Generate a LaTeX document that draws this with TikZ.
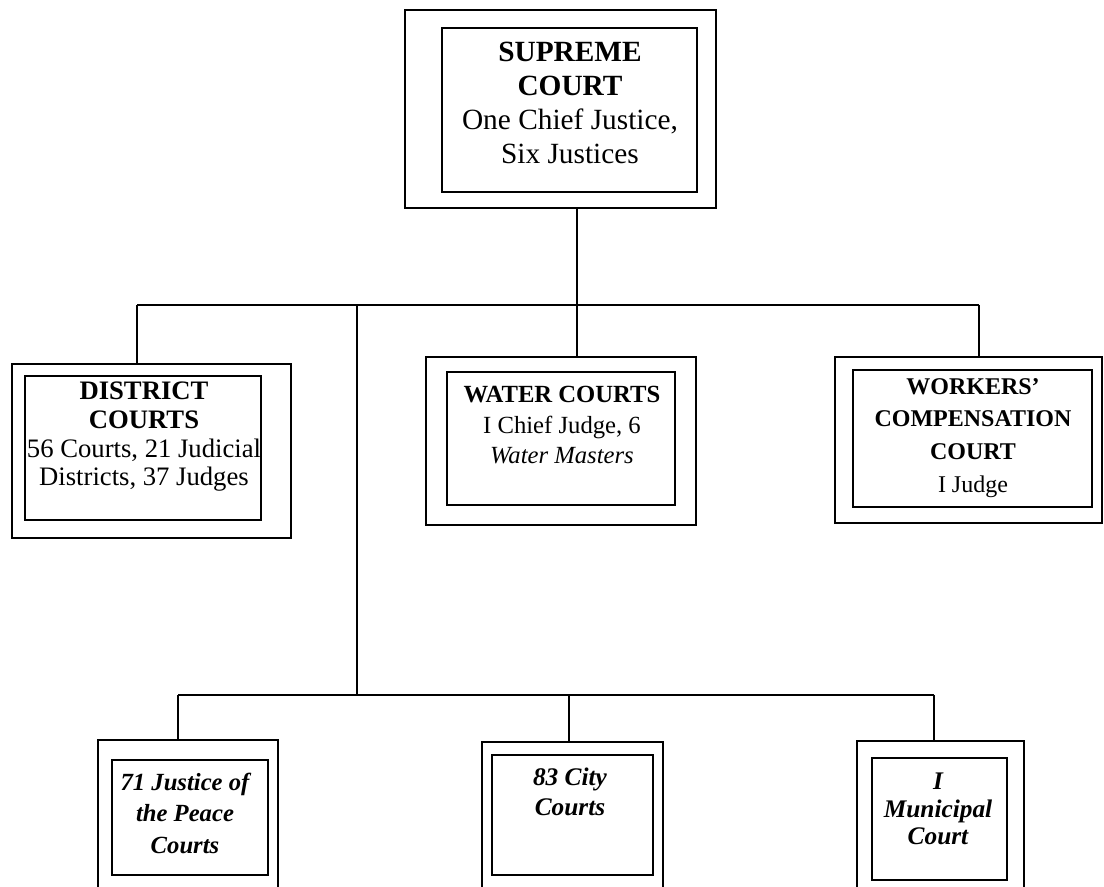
\documentclass[tikz,border=0pt]{standalone}
\usepackage{fontspec}
\setmainfont{Liberation Serif}
\usetikzlibrary{fit}

\tikzset{
  outerbox/.style={draw, line width=1.3pt, inner sep=0pt},
  innerbox/.style={draw, line width=1.3pt, inner sep=0pt},
  courttext/.style={anchor=north, align=center, inner sep=0pt},
  link/.style={line width=1.2pt}
}

\begin{document}
\begin{tikzpicture}[x=0.75pt,y=0.75pt,yscale=-1,xscale=1]
%set diagram left start at 0, and has height of 887
\useasboundingbox (0,0) rectangle (1104,887);

%Shape: Rectangle [supreme court]
\node [outerbox, fit={(405,10) (716,208)}] (sc) {};
\node [innerbox, fit={(442,28) (697,192)}] (scin) {};
%Shape: Rectangle [district courts]
\node [outerbox, fit={(12,364) (291,538)}] (dc) {};
\node [innerbox, fit={(25,376) (261,520)}] (dcin) {};
%Shape: Rectangle [water courts]
\node [outerbox, fit={(426,357) (696,525)}] (wc) {};
\node [innerbox, fit={(447,372) (675,505)}] (wcin) {};
%Shape: Rectangle [workers' compensation court]
\node [outerbox, fit={(835,357) (1102,523)}] (wk) {};
\node [innerbox, fit={(853,370) (1092,507)}] (wkin) {};
%Shape: Rectangle [justice of the peace courts]
\node [outerbox, fit={(98,740) (278,900)}] (jp) {};
\node [innerbox, fit={(112,760) (268,875)}] (jpin) {};
%Shape: Rectangle [city courts]
\node [outerbox, fit={(482,742) (663,900)}] (cy) {};
\node [innerbox, fit={(492,755) (653,875)}] (cyin) {};
%Shape: Rectangle [municipal court]
\node [outerbox, fit={(857,741) (1024,900)}] (mu) {};
\node [innerbox, fit={(872,758) (1007,880)}] (muin) {};

%Straight Lines [upper branch]
\coordinate (busA) at (577,305);
\coordinate (busAl) at (137,305);
\coordinate (busAm) at (357,305);
\coordinate (busAr) at (979,305);
\draw [link] (sc.south -| busA) -- (busA);
\draw [link] (busAl) -- (busAr);
\draw [link] (busAl) -- (dc.north -| busAl);
\draw [link] (busA) -- (wc.north -| busA);
\draw [link] (busAr) -- (wk.north -| busAr);
%Straight Lines [lower branch]
\coordinate (busB) at (357,695);
\coordinate (busBl) at (178,695);
\coordinate (busBm) at (569,695);
\coordinate (busBr) at (934,695);
\draw [link] (busAm) -- (busB);
\draw [link] (busBl) -- (busBr);
\draw [link] (busBl) -- (jp.north -| busBl);
\draw [link] (busBm) -- (cy.north -| busBm);
\draw [link] (busBr) -- (mu.north -| busBr);

% Text Node
\node [courttext, font={\fontsize{22}{25.5}\selectfont}] (sctxt) at (570,42)
  {\textbf{SUPREME}\\\textbf{COURT}\\One Chief Justice,\\Six Justices};
% Text Node
\node [courttext, font={\fontsize{20}{21.5}\selectfont}] (dctxt) at (144,382)
  {\textbf{DISTRICT}\\\textbf{COURTS}\\56 Courts, 21 Judicial\\Districts, 37 Judges};
% Text Node
\node [courttext, font={\fontsize{18.5}{23}\selectfont}] (wctxt) at (562,386)
  {\textbf{WATER COURTS}\\I Chief Judge, 6\\\textit{Water Masters}};
% Text Node
\node [courttext, font={\fontsize{18}{24.5}\selectfont}] (wktxt) at (973,378)
  {\textbf{WORKERS’}\\\textbf{COMPENSATION}\\\textbf{COURT}\\I Judge};
% Text Node
\node [courttext, font={\fontsize{18.5}{23.5}\selectfont\bfseries\itshape}] (jptxt) at (185,773)
  {71 Justice of\\the Peace\\Courts};
% Text Node
\node [courttext, font={\fontsize{19}{22.5}\selectfont\bfseries\itshape}] (cytxt) at (570,768)
  {83 City\\Courts};
% Text Node
\node [courttext, font={\fontsize{19}{20.5}\selectfont\bfseries\itshape}] (mutxt) at (938,773)
  {I\\Municipal\\Court};

\end{tikzpicture}
\end{document}
